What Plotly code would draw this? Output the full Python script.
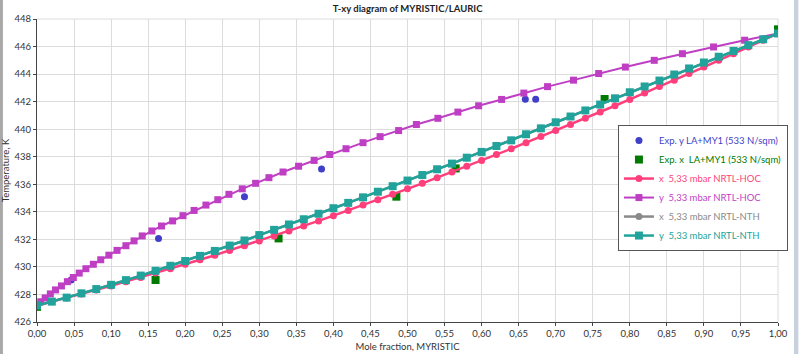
import plotly.graph_objects as go

# liquid mole fraction grid used by the model curves
x_liq = [0.00, 0.02, 0.04, 0.06, 0.08, 0.10, 0.12, 0.14, 0.16, 0.18,
         0.20, 0.22, 0.24, 0.26, 0.28, 0.30, 0.32, 0.34, 0.36, 0.38,
         0.40, 0.42, 0.44, 0.46, 0.48, 0.50, 0.52, 0.54, 0.56, 0.58,
         0.60, 0.62, 0.64, 0.66, 0.68, 0.70, 0.72, 0.74, 0.76, 0.78,
         0.80, 0.82, 0.84, 0.86, 0.88, 0.90, 0.92, 0.94, 0.96, 0.98, 1.00]

# NRTL-HOC temperatures (shared by x and y curves)
T_hoc = [427.20, 427.47, 427.75, 428.04, 428.33, 428.62, 428.93, 429.23, 429.55, 429.87,
         430.19, 430.52, 430.85, 431.20, 431.54, 431.89, 432.25, 432.61, 432.97, 433.34,
         433.72, 434.10, 434.49, 434.88, 435.27, 435.67, 436.07, 436.48, 436.89, 437.31,
         437.73, 438.16, 438.58, 439.02, 439.46, 439.90, 440.34, 440.79, 441.24, 441.70,
         442.16, 442.62, 443.09, 443.56, 444.04, 444.51, 445.00, 445.48, 445.97, 446.46, 446.95]

# NRTL-HOC vapour mole fractions
y_hoc = [0.000, 0.005, 0.011, 0.018, 0.025, 0.033, 0.041, 0.049, 0.057, 0.066,
         0.076, 0.086, 0.097, 0.108, 0.120, 0.131, 0.142, 0.155, 0.168, 0.183,
         0.197, 0.212, 0.228, 0.244, 0.259, 0.277, 0.295, 0.313, 0.332, 0.353,
         0.374, 0.395, 0.417, 0.440, 0.463, 0.488, 0.512, 0.541, 0.568, 0.596,
         0.627, 0.657, 0.689, 0.724, 0.758, 0.794, 0.833, 0.871, 0.913, 0.955, 1.000]

# NRTL-NTH temperatures
T_nth = [427.20, 427.48, 427.77, 428.08, 428.39, 428.70, 429.04, 429.37, 429.72, 430.08,
         430.43, 430.80, 431.16, 431.55, 431.92, 432.31, 432.69, 433.08, 433.46, 433.86,
         434.26, 434.65, 435.05, 435.46, 435.86, 436.27, 436.67, 437.09, 437.50, 437.93,
         438.35, 438.78, 439.19, 439.63, 440.06, 440.50, 440.92, 441.36, 441.79, 442.24,
         442.68, 443.10, 443.53, 443.97, 444.41, 444.84, 445.26, 445.68, 446.10, 446.53, 446.95]

# experimental data
exp_y_comp = [0.046, 0.164, 0.280, 0.384, 0.659, 0.673]
exp_y_T = [429.05, 432.07, 435.10, 437.11, 442.17, 442.17]
exp_x_comp = [0.000, 0.160, 0.326, 0.485, 0.565, 0.766, 1.000]
exp_x_T = [427.10, 429.05, 432.07, 435.10, 437.15, 442.19, 447.25]

x_ticks = [0.00, 0.05, 0.10, 0.15, 0.20, 0.25, 0.30, 0.35, 0.40, 0.45, 0.50,
           0.55, 0.60, 0.65, 0.70, 0.75, 0.80, 0.85, 0.90, 0.95, 1.00]
y_ticks = [426, 428, 430, 432, 434, 436, 438, 440, 442, 444, 446, 448]

C_BLUE = "#3f3fc8"
C_GREEN = "#007a00"
C_RED = "#ff3f7c"
C_MAG = "#bf3fc4"
C_GRAY = "#8a8a8a"
C_TEAL = "#21a39c"

def lbl(text, color):
    return f'<span style="color:{color}">{text}</span>'

fig = go.Figure()
fig.add_trace(go.Scatter(x=exp_y_comp, y=exp_y_T, mode="markers",
                         marker=dict(symbol="circle", size=7, color=C_BLUE),
                         name=lbl("Exp. y LA+MY1 (533 N/sqm)", C_BLUE)))
fig.add_trace(go.Scatter(x=exp_x_comp, y=exp_x_T, mode="markers",
                         marker=dict(symbol="square", size=8, color=C_GREEN),
                         name=lbl("Exp. x  LA+MY1 (533 N/sqm)", C_GREEN)))
fig.add_trace(go.Scatter(x=x_liq, y=T_hoc, mode="lines+markers",
                         line=dict(color=C_RED, width=2.5),
                         marker=dict(symbol="circle", size=7, color=C_RED),
                         name=lbl("x  5,33 mbar NRTL-HOC", C_RED)))
fig.add_trace(go.Scatter(x=y_hoc, y=T_hoc, mode="lines+markers",
                         line=dict(color=C_MAG, width=2),
                         marker=dict(symbol="square", size=7, color=C_MAG),
                         name=lbl("y  5,33 mbar NRTL-HOC", C_MAG)))
fig.add_trace(go.Scatter(x=x_liq, y=T_nth, mode="lines+markers",
                         line=dict(color=C_GRAY, width=2.5),
                         marker=dict(symbol="circle", size=7, color=C_GRAY),
                         name=lbl("x  5,33 mbar NRTL-NTH", C_GRAY)))
fig.add_trace(go.Scatter(x=x_liq, y=T_nth, mode="lines+markers",
                         line=dict(color=C_TEAL, width=2.5),
                         marker=dict(symbol="square", size=8, color=C_TEAL),
                         name=lbl("y  5,33 mbar NRTL-NTH", C_TEAL)))

FONT = "Lato, Open Sans, sans-serif"
fig.update_layout(
    width=800, height=354,
    margin=dict(l=37, r=22, t=19, b=32),
    paper_bgcolor="white", plot_bgcolor="white",
    separators=", ",
    font=dict(family=FONT, size=9.5, color="#333333"),
    title=dict(text="<b>T-xy diagram of MYRISTIC/LAURIC</b>", x=0.5095, xanchor="center",
               y=0.985, yanchor="top", font=dict(size=9.5, color="#222222")),
    showlegend=True,
    legend=dict(x=0.784, y=0.65, xanchor="left", yanchor="top",
                bgcolor="white", bordercolor="#555555", borderwidth=1,
                font=dict(size=9.5), itemwidth=30, tracegroupgap=0),
    xaxis=dict(range=[0, 1], tickvals=x_ticks, tickformat=".2f",
               showgrid=True, gridcolor="#dcdcdc", gridwidth=1,
               showline=True, linecolor="#444444", linewidth=1,
               ticks="outside", ticklen=3, tickcolor="#444444",
               zeroline=False, automargin=False,
               title=dict(text="Mole fraction, MYRISTIC", standoff=4, font=dict(size=9.5))),
    yaxis=dict(range=[426, 448], tickvals=y_ticks,
               showgrid=True, gridcolor="#dcdcdc", gridwidth=1,
               showline=True, linecolor="#444444", linewidth=1,
               ticks="outside", ticklen=3, tickcolor="#444444",
               zeroline=False, automargin=False,
               title=dict(text="Temperature, K", standoff=5, font=dict(size=9.5))),
)
# right/top border grid lines of the plot frame
fig.add_shape(type="line", xref="paper", yref="paper", x0=1, x1=1, y0=0, y1=1,
              line=dict(color="#dcdcdc", width=1), layer="below")
fig.add_shape(type="line", xref="paper", yref="paper", x0=0, x1=1, y0=1, y1=1,
              line=dict(color="#dcdcdc", width=1), layer="below")
# window edges
fig.add_shape(type="rect", xref="paper", yref="paper", x0=-0.05, x1=-0.046, y0=-0.2, y1=1.1,
              line=dict(width=0), fillcolor="#a8a8a8")
fig.add_shape(type="rect", xref="paper", yref="paper", x0=1.0216, x1=1.0275, y0=-0.2, y1=1.1,
              line=dict(width=0), fillcolor="#c8d2de")

fig.write_html("out.html")
